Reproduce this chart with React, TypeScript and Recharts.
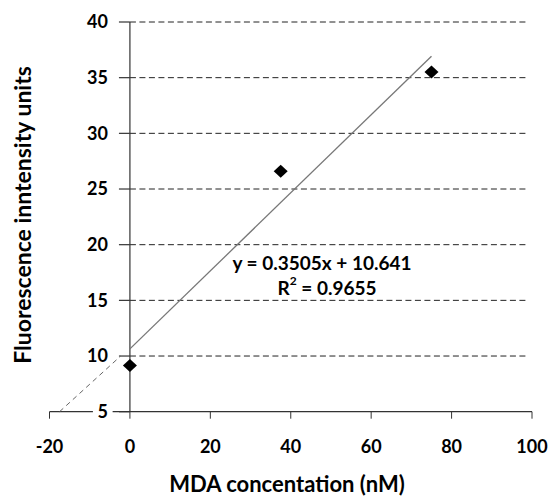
import React from 'react';
import { ComposedChart, Scatter, Line, XAxis, YAxis, ReferenceLine, Customized } from 'recharts';

const pointsX = [0, 37.5, 75];
const pointsY = [9.15, 26.6, 35.5];
const trendX = [0, 75];
const trendY = [10.64, 36.93];
const xTicks = [-20, 0, 20, 40, 60, 80, 100];
const yTicks = [5, 10, 15, 20, 25, 30, 35, 40];
const gridLevels = [10, 15, 20, 25, 30, 35, 40];
const extStart = { x: -17.5, y: 5 };
const extEnd = { x: -2.3, y: 10 };
const equationText = 'y = 0.3505x + 10.641';
const r2Value = '0.9655';
const xTitle = 'MDA concentation (nM)';
const yTitle = 'Fluorescence inntensity units';

const points = pointsX.map((x, i) => ({ x, y: pointsY[i] }));
const trend = trendX.map((x, i) => ({ x, y: trendY[i] }));

const FONT = 'Lato, "Open Sans", sans-serif';

const Diamond = (props: any) => {
  const { cx, cy } = props;
  if (cx == null || cy == null) return null;
  const w = 7, h = 6.5;
  return <polygon points={`${cx},${cy - h} ${cx + w},${cy} ${cx},${cy + h} ${cx - w},${cy}`} fill="#000" />;
};

const Titles = () => (
  <g>
    <text x={22} y={215} transform="rotate(-90 22 215)" textAnchor="middle" dominantBaseline="central"
      fontFamily={FONT} fontWeight="bold" fontSize={23} fill="#000">{yTitle}</text>
    <text x={287} y={483} textAnchor="middle" dominantBaseline="central"
      fontFamily={FONT} fontWeight="bold" fontSize={22} fill="#000">{xTitle}</text>
    <text x={322} y={262} textAnchor="middle" dominantBaseline="central"
      fontFamily={FONT} fontWeight="bold" fontSize={19} fill="#000">{equationText}</text>
    <text x={327} y={287} textAnchor="middle" dominantBaseline="central"
      fontFamily={FONT} fontWeight="bold" fontSize={19} fill="#000">
      R<tspan fontSize={12} dy={-7}>2</tspan><tspan dy={7}>{` = ${r2Value}`}</tspan>
    </text>
  </g>
);

export default function App() {
  return (
    <div style={{ position: 'absolute', left: 0, top: 0, width: 550, height: 497 }}>
      <ComposedChart width={550} height={497} margin={{ top: 22, right: 18, left: 49.5, bottom: 0 }}>
        <XAxis type="number" dataKey="x" domain={[-20, 100]} ticks={xTicks} interval={0}
          axisLine={false} tickLine={{ stroke: '#333' }} tickSize={7} tickMargin={22} height={85.3}
          tick={{ fontFamily: FONT, fontWeight: 'bold', fontSize: 18, fill: '#000' }} allowDataOverflow />
        <YAxis type="number" dataKey="y" domain={[5, 40]} ticks={yTicks} hide allowDataOverflow />
        {gridLevels.map((v) => (
          <ReferenceLine key={'g' + v} segment={[{ x: 0, y: v }, { x: 99, y: v }]}
            stroke="#222" strokeDasharray="6 3.5" strokeWidth={1} ifOverflow="visible" />
        ))}
        <ReferenceLine segment={[{ x: -20, y: 5 }, { x: -9.2, y: 5 }]} stroke="#333" strokeWidth={1.2} ifOverflow="visible" />
        <ReferenceLine segment={[{ x: -4.3, y: 5 }, { x: 100, y: 5 }]} stroke="#333" strokeWidth={1.2} ifOverflow="visible" />
        <ReferenceLine segment={[{ x: 0, y: 5 }, { x: 0, y: 40 }]} stroke="#333" strokeWidth={1.2} ifOverflow="visible" />
        {yTicks.map((v) => (
          <ReferenceLine key={'t' + v} segment={[{ x: -2.73, y: v }, { x: 0, y: v }]}
            stroke="#333" strokeWidth={1.2} ifOverflow="visible"
            label={{ value: String(v), position: 'left', offset: 11, fontFamily: FONT, fontWeight: 'bold', fontSize: 18, fill: '#000' }} />
        ))}
        <ReferenceLine segment={[extStart, extEnd]} stroke="#666" strokeDasharray="5 4" strokeWidth={1} ifOverflow="visible" />
        <Line data={trend} dataKey="y" type="linear" stroke="#777" strokeWidth={1.3} dot={false}
          activeDot={false} isAnimationActive={false} />
        <Scatter data={points} dataKey="y" shape={<Diamond />} isAnimationActive={false} />
        <Customized component={Titles} />
      </ComposedChart>
    </div>
  );
}
